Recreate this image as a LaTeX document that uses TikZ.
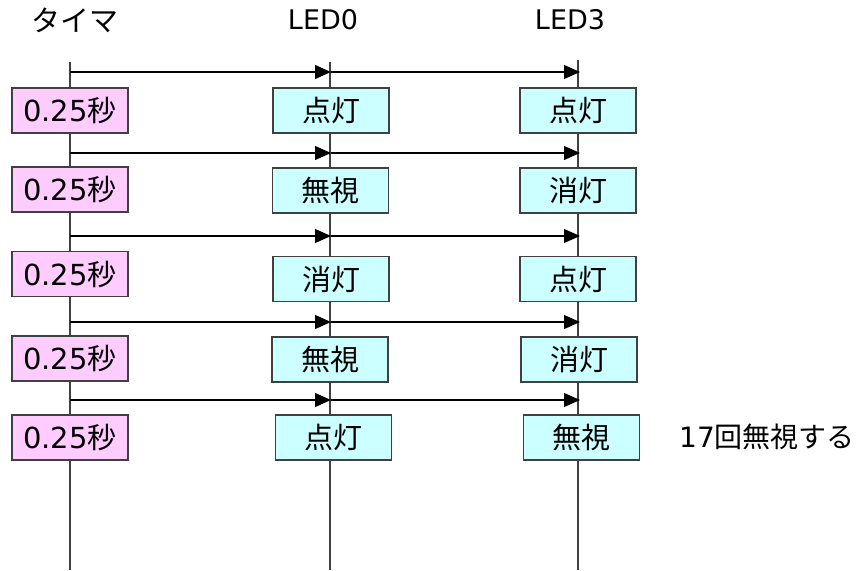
\documentclass[tikz,border=0pt]{standalone}
\usepackage{fontspec}
\setmainfont{DejaVu Sans}
\newfontfamily\jp{Noto Sans CJK JP}
\usetikzlibrary{arrows.meta}
\definecolor{pinkfill}{HTML}{FFCCFF}
\definecolor{cyanfill}{HTML}{CCFFFF}
\definecolor{edge}{HTML}{404040}
\begin{document}
\begin{tikzpicture}[x=1pt,y=-1pt,
  lifeline/.style={draw=edge,line width=1.1pt},
  msg/.style={draw=black,line width=1.1pt,-{Triangle[length=16pt,width=14pt]}},
  timerbox/.style={draw=edge,line width=1.1pt,fill=pinkfill,minimum width=116pt,minimum height=45pt,inner sep=0pt,font=\fontsize{29}{32}\selectfont},
  ledbox/.style={draw=edge,line width=1.1pt,fill=cyanfill,minimum width=116pt,minimum height=45pt,inner sep=0pt,font=\fontsize{29}{32}\selectfont},
  title/.style={inner sep=0pt,font=\fontsize{27}{30}\selectfont},
  note/.style={inner sep=0pt,anchor=west,font=\fontsize{28}{31}\selectfont}]
\useasboundingbox (0,0) rectangle (858,570);
% titles
\node[title] (tt) at (75,20) {\fontsize{29}{32}\selectfont\jp タイマ};
\node[title] (ta) at (323,20) {LED0};
\node[title] (tb) at (570,20) {LED3};
% lifelines
\coordinate (ttop) at (70,62);  \coordinate (tbot) at (70,570);
\coordinate (atop) at (330,62); \coordinate (abot) at (330,570);
\coordinate (btop) at (578,60); \coordinate (bbot) at (578,570);
\draw[lifeline] (ttop) -- (tbot);
\draw[lifeline] (atop) -- (abot);
\draw[lifeline] (btop) -- (bbot);
% messages
\foreach \i/\y in {1/72,2/153,3/236,4/322,5/400}{
  \coordinate (t\i) at (70,\y);
  \coordinate (a\i) at (331,\y);
  \coordinate (b\i) at (580,\y);
  \draw[msg] (t\i) -- (a\i);
  \draw[msg] (a\i) -- (b\i);
}
% timer boxes
\node[timerbox] (T1) at (70,110.5) {0.25{\jp 秒}};
\node[timerbox] (T2) at (70,189.5) {0.25{\jp 秒}};
\node[timerbox] (T3) at (70,274) {0.25{\jp 秒}};
\node[timerbox] (T4) at (70,358.5) {0.25{\jp 秒}};
\node[timerbox] (T5) at (70,437.5) {0.25{\jp 秒}};
% LED0 boxes
\node[ledbox] (A1) at (331,110.5) {\jp 点灯};
\node[ledbox] (A2) at (330.5,190.5) {\jp 無視};
\node[ledbox] (A3) at (331,279) {\jp 消灯};
\node[ledbox] (A4) at (330,359.5) {\jp 無視};
\node[ledbox] (A5) at (333.5,437.5) {\jp 点灯};
% LED3 boxes
\node[ledbox] (B1) at (578,110.5) {\jp 点灯};
\node[ledbox] (B2) at (578,190.5) {\jp 消灯};
\node[ledbox] (B3) at (578,279) {\jp 点灯};
\node[ledbox] (B4) at (579,359.5) {\jp 消灯};
\node[ledbox] (B5) at (581.5,437.5) {\jp 無視};
% note
\node[note] (N) at (679,437) {17{\jp 回無視する}};
\end{tikzpicture}
\end{document}
